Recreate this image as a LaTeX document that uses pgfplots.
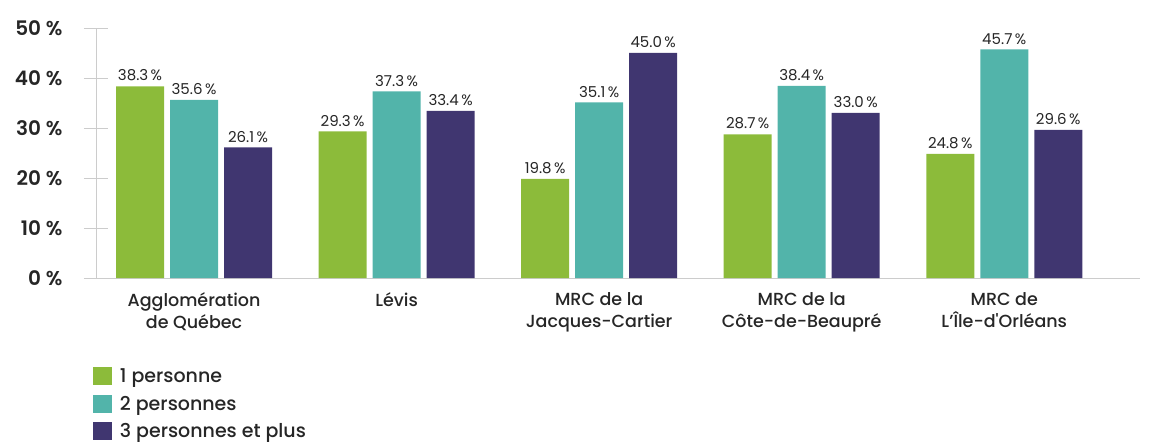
\documentclass[border=0pt]{standalone}
\usepackage{fontspec}
\setmainfont{Poppins}
\newfontfamily\pmed{Poppins Medium}
\newfontfamily\psemi{Poppins SemiBold}
\usepackage{pgfplots}
\pgfplotsset{compat=1.18}
\definecolor{cgreen}{HTML}{8CBB3A}
\definecolor{cteal}{HTML}{52B4AA}
\definecolor{cpurple}{HTML}{403670}
\definecolor{lgray}{HTML}{CCCCCC}
\definecolor{dtext}{HTML}{262626}
\begin{document}
\begin{tikzpicture}
\useasboundingbox (-96pt,-166pt) rectangle (1061pt,278pt);
\begin{axis}[
  scale only axis, width=1044pt, height=250pt,
  xmin=-0.484, xmax=4.67, ymin=0, ymax=50,
  axis x line=bottom, axis y line=left,
  axis line style={-, draw=lgray, line width=0.8pt},
  ybar=6pt, bar width=48pt,
  xtick={0,1,2,3,4},
  xticklabels={{Agglomération\\de Québec},{Lévis},{MRC de la\\Jacques-Cartier},{MRC de la\\Côte-de-Beaupré},{MRC de\\L’Île-d'Orléans}},
  xticklabel style={align=center, font=\pmed\fontsize{17.5}{22}\selectfont, text=dtext, yshift=1pt},
  xtick style={draw=none},
  ytick={0,10,20,30,40,50},
  yticklabels={0 \%,10 \%,20 \%,30 \%,40 \%,50 \%},
  yticklabel style={font=\psemi\fontsize{20}{22}\selectfont, text=dtext, xshift=-18pt},
  tick align=center, major tick length=24pt,
  ytick style={draw=lgray, line width=0.8pt},
  nodes near coords={\pgfmathprintnumber[fixed,fixed zerofill,precision=1,assume math mode=true]{\pgfplotspointmeta}\,\%},
  every node near coord/.append style={font=\fontsize{15}{17}\selectfont, text=dtext, inner sep=0pt, anchor=south, yshift=5pt},
  legend style={at={(axis description cs:-0.0029,-0.356)}, anchor=north west, draw=none, fill=none,
    inner sep=0pt, outer sep=0pt, row sep=8pt, column sep=8pt,
    font=\pmed\fontsize{19}{22}\selectfont, text=dtext,
    nodes={inner sep=0pt, text height=13pt, text depth=4pt, yshift=5pt}},
  legend cell align=left,
  clip=false,
]
\addplot[fill=cgreen, draw=none, legend image code/.code={\fill[cgreen] (0pt,-2pt) rectangle (19pt,16pt);}]
  coordinates {(0,38.3) (1,29.3) (2,19.8) (3,28.7) (4,24.8)};
\addplot[fill=cteal, draw=none, legend image code/.code={\fill[cteal] (0pt,-2pt) rectangle (19pt,16pt);}]
  coordinates {(0,35.6) (1,37.3) (2,35.1) (3,38.4) (4,45.7)};
\addplot[fill=cpurple, draw=none, legend image code/.code={\fill[cpurple] (0pt,-2pt) rectangle (19pt,16pt);}]
  coordinates {(0,26.1) (1,33.4) (2,45.0) (3,33.0) (4,29.6)};
\legend{1 personne, 2 personnes, 3 personnes et plus}
\end{axis}
\end{tikzpicture}
\end{document}
